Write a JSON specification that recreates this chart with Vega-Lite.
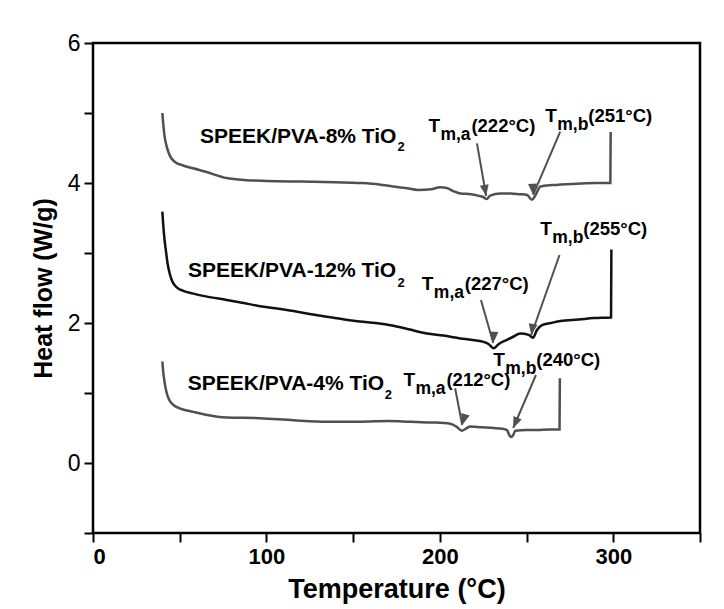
{
  "$schema": "https://vega.github.io/schema/vega-lite/v6.json",
  "width": 607,
  "height": 490,
  "autosize": {"type": "none"},
  "padding": {"left": 93, "top": 43, "right": 24, "bottom": 76},
  "background": "white",
  "config": {
    "view": {"stroke": "#000000", "strokeWidth": 2.5},
    "font": "Liberation Sans",
    "axis": {"domain": false, "grid": false, "tickColor": "#000000", "tickWidth": 2, "tickSize": 9, "labelColor": "#000000", "titleColor": "#000000", "labelFont": "Liberation Sans", "titleFont": "Liberation Sans"}
  },
  "datasets": {
    "curves": [
      {"s": "8%", "T": 40.0, "V": 5.00}, {"s": "8%", "T": 40.5, "V": 4.85}, {"s": "8%", "T": 41.2, "V": 4.68}, {"s": "8%", "T": 42.5, "V": 4.52}, {"s": "8%", "T": 44.5, "V": 4.38}, {"s": "8%", "T": 47.3, "V": 4.30}, {"s": "8%", "T": 52, "V": 4.25}, {"s": "8%", "T": 57.7, "V": 4.21}, {"s": "8%", "T": 65, "V": 4.16}, {"s": "8%", "T": 77, "V": 4.07}, {"s": "8%", "T": 88.7, "V": 4.04}, {"s": "8%", "T": 100, "V": 4.03}, {"s": "8%", "T": 120, "V": 4.02}, {"s": "8%", "T": 140, "V": 4.01}, {"s": "8%", "T": 154, "V": 4.00}, {"s": "8%", "T": 165, "V": 3.98}, {"s": "8%", "T": 173, "V": 3.95}, {"s": "8%", "T": 180, "V": 3.93}, {"s": "8%", "T": 187.5, "V": 3.90}, {"s": "8%", "T": 195, "V": 3.91}, {"s": "8%", "T": 200, "V": 3.94}, {"s": "8%", "T": 204, "V": 3.93}, {"s": "8%", "T": 208, "V": 3.88}, {"s": "8%", "T": 211.8, "V": 3.85}, {"s": "8%", "T": 218, "V": 3.84}, {"s": "8%", "T": 222, "V": 3.82}, {"s": "8%", "T": 225, "V": 3.80}, {"s": "8%", "T": 227, "V": 3.77}, {"s": "8%", "T": 229, "V": 3.82}, {"s": "8%", "T": 235, "V": 3.85}, {"s": "8%", "T": 240.6, "V": 3.85}, {"s": "8%", "T": 246, "V": 3.84}, {"s": "8%", "T": 250.3, "V": 3.83}, {"s": "8%", "T": 253, "V": 3.76}, {"s": "8%", "T": 255, "V": 3.82}, {"s": "8%", "T": 258, "V": 3.95}, {"s": "8%", "T": 265, "V": 3.97}, {"s": "8%", "T": 279, "V": 3.99}, {"s": "8%", "T": 290, "V": 4.00}, {"s": "8%", "T": 298.3, "V": 4.00}, {"s": "8%", "T": 298.5, "V": 4.73},
      {"s": "12%", "T": 40.0, "V": 3.59}, {"s": "12%", "T": 40.5, "V": 3.40}, {"s": "12%", "T": 41.2, "V": 3.20}, {"s": "12%", "T": 42, "V": 3.04}, {"s": "12%", "T": 43, "V": 2.85}, {"s": "12%", "T": 44.4, "V": 2.69}, {"s": "12%", "T": 46, "V": 2.58}, {"s": "12%", "T": 48.3, "V": 2.51}, {"s": "12%", "T": 52, "V": 2.46}, {"s": "12%", "T": 57.9, "V": 2.42}, {"s": "12%", "T": 65, "V": 2.38}, {"s": "12%", "T": 77.1, "V": 2.33}, {"s": "12%", "T": 86, "V": 2.29}, {"s": "12%", "T": 96.4, "V": 2.24}, {"s": "12%", "T": 105, "V": 2.21}, {"s": "12%", "T": 115.6, "V": 2.17}, {"s": "12%", "T": 125, "V": 2.13}, {"s": "12%", "T": 134.8, "V": 2.09}, {"s": "12%", "T": 145, "V": 2.05}, {"s": "12%", "T": 154, "V": 2.02}, {"s": "12%", "T": 163, "V": 2.00}, {"s": "12%", "T": 173.3, "V": 1.96}, {"s": "12%", "T": 182, "V": 1.91}, {"s": "12%", "T": 192.5, "V": 1.85}, {"s": "12%", "T": 202, "V": 1.82}, {"s": "12%", "T": 211.8, "V": 1.78}, {"s": "12%", "T": 218, "V": 1.76}, {"s": "12%", "T": 225.2, "V": 1.73}, {"s": "12%", "T": 228, "V": 1.70}, {"s": "12%", "T": 231, "V": 1.64}, {"s": "12%", "T": 234, "V": 1.70}, {"s": "12%", "T": 238.7, "V": 1.76}, {"s": "12%", "T": 242, "V": 1.80}, {"s": "12%", "T": 246.4, "V": 1.85}, {"s": "12%", "T": 251.2, "V": 1.83}, {"s": "12%", "T": 253.7, "V": 1.79}, {"s": "12%", "T": 256, "V": 1.90}, {"s": "12%", "T": 258.9, "V": 1.97}, {"s": "12%", "T": 264, "V": 2.00}, {"s": "12%", "T": 269.5, "V": 2.03}, {"s": "12%", "T": 280, "V": 2.05}, {"s": "12%", "T": 288.7, "V": 2.07}, {"s": "12%", "T": 298.7, "V": 2.08}, {"s": "12%", "T": 298.9, "V": 3.05},
      {"s": "4%", "T": 40.0, "V": 1.45}, {"s": "4%", "T": 40.5, "V": 1.30}, {"s": "4%", "T": 41.3, "V": 1.15}, {"s": "4%", "T": 42.5, "V": 1.00}, {"s": "4%", "T": 44, "V": 0.90}, {"s": "4%", "T": 46.3, "V": 0.83}, {"s": "4%", "T": 50, "V": 0.78}, {"s": "4%", "T": 57.9, "V": 0.73}, {"s": "4%", "T": 65, "V": 0.69}, {"s": "4%", "T": 77.1, "V": 0.65}, {"s": "4%", "T": 96.4, "V": 0.64}, {"s": "4%", "T": 115.6, "V": 0.61}, {"s": "4%", "T": 134.8, "V": 0.59}, {"s": "4%", "T": 154, "V": 0.59}, {"s": "4%", "T": 170, "V": 0.60}, {"s": "4%", "T": 182.9, "V": 0.59}, {"s": "4%", "T": 195, "V": 0.58}, {"s": "4%", "T": 206, "V": 0.56}, {"s": "4%", "T": 209.5, "V": 0.52}, {"s": "4%", "T": 212.7, "V": 0.46}, {"s": "4%", "T": 215, "V": 0.49}, {"s": "4%", "T": 217.5, "V": 0.52}, {"s": "4%", "T": 224, "V": 0.51}, {"s": "4%", "T": 231, "V": 0.50}, {"s": "4%", "T": 236, "V": 0.49}, {"s": "4%", "T": 238.7, "V": 0.47}, {"s": "4%", "T": 240, "V": 0.40}, {"s": "4%", "T": 241, "V": 0.37}, {"s": "4%", "T": 242.3, "V": 0.40}, {"s": "4%", "T": 243.5, "V": 0.46}, {"s": "4%", "T": 250, "V": 0.47}, {"s": "4%", "T": 256, "V": 0.47}, {"s": "4%", "T": 263, "V": 0.48}, {"s": "4%", "T": 269, "V": 0.48}, {"s": "4%", "T": 269.2, "V": 1.21}
    ],
    "arrows": [
      {"id": "a1", "T": 221.4, "V": 4.567, "T2": 226.7, "V2": 3.814},
      {"id": "a2", "T": 269.4, "V": 4.733, "T2": 253.8, "V2": 3.829},
      {"id": "a3", "T": 223.7, "V": 2.329, "T2": 230.8, "V2": 1.714},
      {"id": "a4", "T": 269.0, "V": 2.971, "T2": 252.7, "V2": 1.829},
      {"id": "a5", "T": 208.8, "V": 1.067, "T2": 212.9, "V2": 0.543},
      {"id": "a6", "T": 255.4, "V": 1.257, "T2": 242.3, "V2": 0.500}
    ],
    "names": [
      {"T": 61.7, "V": 4.661, "label": "SPEEK/PVA-8% TiO"},
      {"T": 54.8, "V": 2.743, "label": "SPEEK/PVA-12% TiO"},
      {"T": 54.6, "V": 1.129, "label": "SPEEK/PVA-4% TiO"}
    ],
    "subs": [
      {"T": 175.6, "V": 4.514, "label": "2"},
      {"T": 175.6, "V": 2.571, "label": "2"},
      {"T": 168.2, "V": 0.971, "label": "2"}
    ],
    "tm": [
      {"T": 193.4, "V": 4.733, "sub": "m,a", "val": "(222°C)"},
      {"T": 260.8, "V": 4.877, "sub": "m,b", "val": "(251°C)"},
      {"T": 189.6, "V": 2.471, "sub": "m,a", "val": "(227°C)"},
      {"T": 257.9, "V": 3.257, "sub": "m,b", "val": "(255°C)"},
      {"T": 179.0, "V": 1.100, "sub": "m,a", "val": "(212°C)"},
      {"T": 230.8, "V": 1.386, "sub": "m,b", "val": "(240°C)"}
    ]
  },
  "layer": [
    {
      "data": {"name": "curves"},
      "mark": {"type": "line", "strokeWidth": 2.5, "interpolate": "monotone"},
      "encoding": {
        "x": {"field": "T", "type": "quantitative", "scale": {"domain": [0, 350], "nice": false, "zero": false},
              "axis": {"values": [0, 50, 100, 150, 200, 250, 300, 350], "format": "d", "labelExpr": "datum.value % 100 === 0 ? datum.label : ''", "labelFontSize": 22, "labelFontWeight": "bold", "labelPadding": 4, "title": "Temperature (°C)", "titleFontSize": 27, "titleFontWeight": "bold", "titlePadding": 9}},
        "y": {"field": "V", "type": "quantitative", "scale": {"domain": [-1, 6], "nice": false, "zero": false},
              "axis": {"values": [-1, 0, 1, 2, 3, 4, 5, 6], "format": "d", "labelExpr": "datum.value % 2 === 0 ? datum.label : ''", "labelFontSize": 23, "labelFontWeight": "normal", "labelPadding": 4, "title": "Heat flow (W/g)", "titleFontSize": 25, "titleFontWeight": "bold", "titlePadding": 11}},
        "color": {"field": "s", "type": "nominal", "scale": {"domain": ["8%", "12%", "4%"], "range": ["#505050", "#111111", "#505050"]}, "legend": null},
        "detail": {"field": "s"}
      }
    },
    {
      "data": {"name": "arrows"},
      "mark": {"type": "rule", "color": "#505050", "strokeWidth": 2},
      "encoding": {
        "x": {"field": "T", "type": "quantitative"},
        "y": {"field": "V", "type": "quantitative"},
        "x2": {"field": "T2"},
        "y2": {"field": "V2"}
      }
    },
    {
      "data": {"name": "arrows"},
      "mark": {"type": "point", "shape": "M0,0L-0.4,-1L0.4,-1Z", "filled": true, "color": "#505050", "opacity": 1, "size": 500},
      "encoding": {
        "x": {"field": "T2", "type": "quantitative"},
        "y": {"field": "V2", "type": "quantitative"},
        "angle": {"field": "id", "type": "nominal", "scale": {"domain": ["a1", "a2", "a3", "a4", "a5", "a6"], "range": [-10, 23.1, -16, 19.5, -10.8, 23.2]}, "legend": null}
      }
    },
    {
      "data": {"name": "names"},
      "mark": {"type": "text", "align": "left", "baseline": "middle", "fontSize": 21, "fontWeight": "bold", "color": "#000000"},
      "encoding": {
        "x": {"field": "T", "type": "quantitative"},
        "y": {"field": "V", "type": "quantitative"},
        "text": {"field": "label"}
      }
    },
    {
      "data": {"name": "subs"},
      "mark": {"type": "text", "align": "left", "baseline": "middle", "fontSize": 13, "fontWeight": "bold", "color": "#000000"},
      "encoding": {
        "x": {"field": "T", "type": "quantitative"},
        "y": {"field": "V", "type": "quantitative"},
        "text": {"field": "label"}
      }
    },
    {
      "data": {"name": "tm"},
      "mark": {"type": "text", "text": "T", "align": "left", "baseline": "alphabetic", "fontSize": 19, "fontWeight": "bold", "color": "#000000"},
      "encoding": {
        "x": {"field": "T", "type": "quantitative"},
        "y": {"field": "V", "type": "quantitative"}
      }
    },
    {
      "data": {"name": "tm"},
      "mark": {"type": "text", "align": "left", "baseline": "alphabetic", "fontSize": 17.5, "fontWeight": "bold", "color": "#000000", "dx": 12, "dy": 8},
      "encoding": {
        "x": {"field": "T", "type": "quantitative"},
        "y": {"field": "V", "type": "quantitative"},
        "text": {"field": "sub"}
      }
    },
    {
      "data": {"name": "tm"},
      "mark": {"type": "text", "align": "left", "baseline": "alphabetic", "fontSize": 18.5, "fontWeight": "bold", "color": "#000000", "dx": 43},
      "encoding": {
        "x": {"field": "T", "type": "quantitative"},
        "y": {"field": "V", "type": "quantitative"},
        "text": {"field": "val"}
      }
    }
  ]
}
